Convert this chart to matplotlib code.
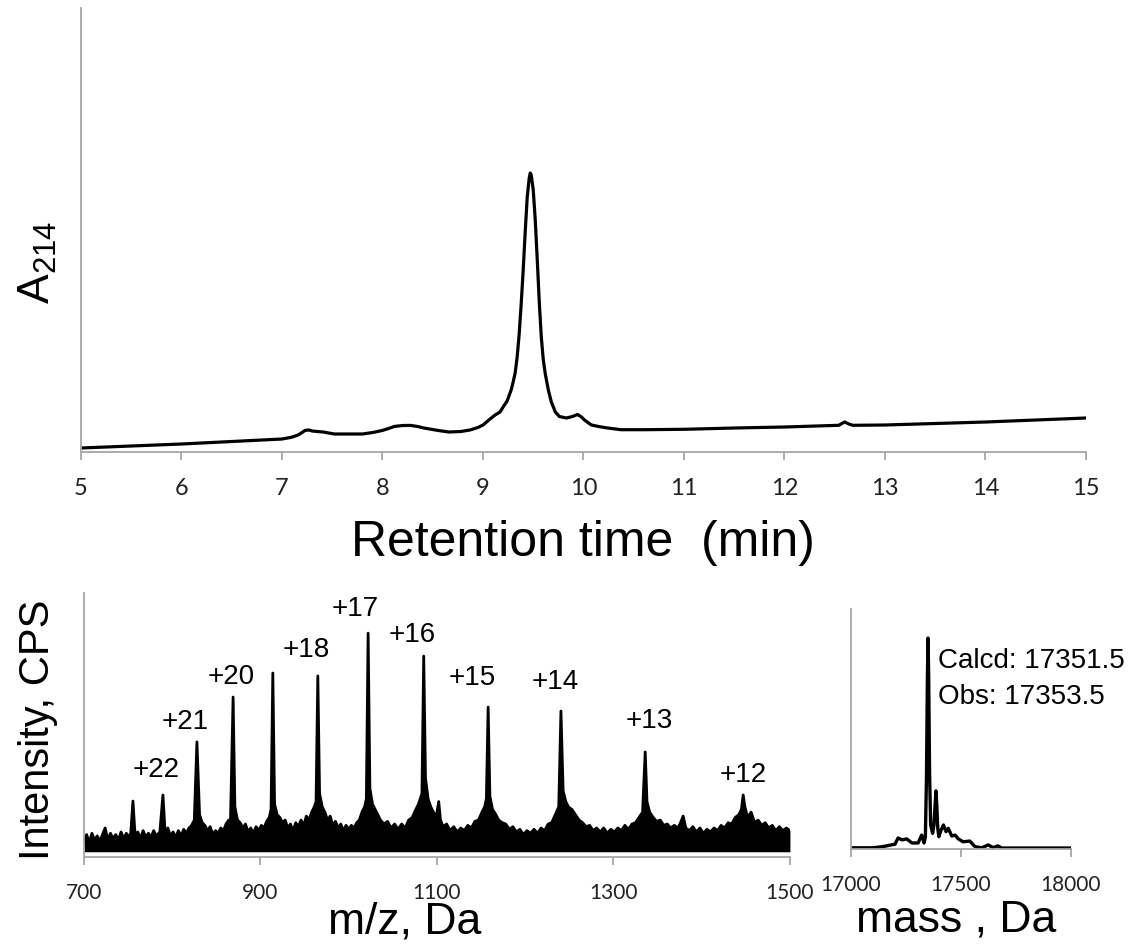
import matplotlib.pyplot as plt

plt.rcParams['mathtext.fontset'] = 'custom'
plt.rcParams['mathtext.rm'] = 'Liberation Sans'
plt.rcParams['mathtext.it'] = 'Liberation Sans'

# --- chromatogram (A214, arbitrary units) ---
rt_min = [5.0, 5.5, 6.0, 6.5, 7.0, 7.09, 7.16, 7.20, 7.23, 7.27, 7.30, 7.35, 7.41,
          7.52, 7.62, 7.80, 7.91, 8.0, 8.06, 8.12, 8.20, 8.28, 8.35, 8.41, 8.55,
          8.66, 8.78, 8.87, 8.95, 9.0, 9.07, 9.12, 9.17, 9.20, 9.24, 9.28, 9.30,
          9.32, 9.34, 9.36, 9.38, 9.40, 9.42, 9.44, 9.46, 9.47, 9.48, 9.50, 9.52,
          9.54, 9.56, 9.58, 9.60, 9.62, 9.65, 9.68, 9.72, 9.76, 9.83, 9.89, 9.94,
          9.98, 10.01, 10.05, 10.08, 10.15, 10.22, 10.37, 10.6, 11.0, 11.5, 12.0,
          12.54, 12.57, 12.6, 12.64, 12.68, 13.0, 13.5, 14.0, 14.5, 15.0]
a214 = [4, 6, 8, 10.5, 13, 14.6, 17, 19.5, 21.6, 22, 21, 20.5, 20,
        18, 18, 18, 19.6, 21.6, 23.5, 25.6, 26.5, 26.6, 25.5, 24, 21.6,
        20, 20.5, 22, 24.5, 27, 33, 37, 40, 45, 51, 62, 70,
        79, 95, 118, 148, 182, 220, 255, 274, 279, 277, 262, 232,
        192, 150, 115, 92, 78, 62, 50, 40, 35.5, 34, 35.5, 37.5,
        35, 32, 29, 27, 25.5, 24.3, 22.3, 22.3, 22.7, 24, 25,
        26.7, 28.5, 30, 28, 26.7, 27, 28.5, 30, 32, 34]

# --- ESI mass spectrum (relative intensity) ---
base_mz = [700, 703, 706, 709, 712, 715, 718, 721, 727, 730, 733, 736, 739, 742,
           745, 748, 751, 753, 758, 761, 764, 767, 770, 773, 776, 779, 782, 786,
           792, 795, 798, 801, 804, 807, 810, 813, 816, 819, 822, 825, 831, 834,
           837, 840, 843, 846, 849, 852, 855, 858, 861, 864, 866, 871, 874, 877,
           880, 883, 886, 889, 892, 895, 898, 901, 904, 907, 910, 912, 916, 919,
           922, 925, 928, 931, 934, 937, 940, 943, 946, 949, 952, 955, 958, 961,
           963, 967, 970, 973, 976, 979, 982, 985, 988, 991, 994, 997, 1000, 1003,
           1006, 1009, 1012, 1015, 1018, 1020, 1024, 1027, 1030, 1033, 1036, 1040,
           1044, 1048, 1052, 1056, 1060, 1064, 1068, 1072, 1076, 1079, 1083, 1087,
           1090, 1093, 1096, 1099, 1104, 1107, 1111, 1115, 1119, 1123, 1127, 1131,
           1135, 1139, 1143, 1147, 1151, 1154, 1156, 1160, 1163, 1166, 1170, 1174,
           1178, 1182, 1186, 1190, 1194, 1198, 1202, 1206, 1210, 1214, 1218, 1222,
           1226, 1230, 1234, 1238, 1243, 1246, 1249, 1253, 1257, 1261, 1265, 1269,
           1273, 1277, 1281, 1285, 1289, 1293, 1297, 1301, 1305, 1309, 1313, 1317,
           1321, 1325, 1329, 1333, 1338, 1341, 1345, 1349, 1353, 1357, 1361, 1365,
           1369, 1373, 1376, 1382, 1386, 1390, 1394, 1398, 1402, 1406, 1410, 1414,
           1418, 1422, 1426, 1430, 1434, 1438, 1442, 1445, 1449, 1452, 1456, 1460,
           1464, 1468, 1472, 1476, 1480, 1484, 1488, 1492, 1496, 1500]
base_int = [6, 8.5, 5.5, 9, 6.5, 8, 6, 8.5, 6.5, 9, 7, 8.5, 6.5, 9.5,
            7, 9, 7.5, 9, 8, 9.5, 7, 10, 7.5, 9, 7.5, 10, 8, 9.5,
            9, 11, 8, 9.5, 7.5, 10, 8, 10.5, 9, 11, 12, 14, 16, 13,
            12, 10, 11.5, 8.5, 10, 9, 11, 10, 12.5, 14, 13, 19, 14, 13,
            11, 12.5, 9.5, 11, 9, 11.5, 10, 12, 11, 13.5, 15, 18, 20, 16,
            15, 13, 14, 11, 12.5, 10, 13, 11.5, 14, 12, 15.5, 14, 17, 19,
            21, 24, 19, 17, 14, 15.5, 12, 13.5, 11, 12.5, 10, 12, 10.5, 12,
            11, 13, 14, 17, 19, 22, 26, 20, 18, 16, 14, 12.5,
            13.5, 11, 12.5, 10.5, 12.5, 11, 14, 15, 18, 20, 24, 30,
            22, 19, 17, 15, 14, 11.5, 12.5, 10, 11.5, 9.5, 11, 10,
            12, 11, 13.5, 14, 17, 19, 22, 23, 18, 16.5, 14, 13,
            12.5, 10.5, 11.5, 9.5, 10.5, 8.5, 10, 9, 10.5, 9, 11, 10,
            12.5, 13, 16, 19, 25, 21, 19, 18, 16, 14, 13, 11.5,
            12, 10, 11, 9.5, 11, 9, 10.5, 9.5, 11, 10, 12, 10.5,
            12.5, 13, 15, 17, 21, 17, 15, 13.5, 14, 12, 12.5, 11,
            12, 11, 13, 11, 10, 11.5, 9.5, 11, 9, 10.5, 9.5, 11,
            10, 12, 11, 13, 12.5, 15, 16, 18, 19, 15, 17, 13,
            14, 12, 13, 11, 12, 10, 11.5, 10, 11, 10]
peak_mz = [724, 755.5, 789.5, 828, 869, 914, 965, 1022, 1085, 1102,
           1158, 1240.5, 1336, 1379, 1447]
peak_int = [11, 21.2, 23.5, 43.6, 60.6, 69.7, 68.6, 84.8, 76.1, 21,
            56.8, 55.3, 39.8, 15.5, 23.5]
noise_floor = 2.0

charge_labels = ['+22', '+21', '+20', '+18', '+17', '+16', '+15', '+14', '+13', '+12']
label_mz = [781.6, 814.4, 866.6, 951.6, 1007, 1071.7, 1139.7, 1233.7, 1340.2, 1446.7]
label_int = [33, 51.1, 68.2, 78.4, 93.9, 84.1, 67.8, 66.3, 51.5, 31.1]

# --- deconvoluted mass ---
mass_da = [17000, 17100, 17145, 17200, 17214, 17232, 17253, 17277, 17305, 17321,
           17332, 17338, 17343, 17347, 17350, 17353, 17357, 17362, 17371, 17377,
           17382, 17386, 17390, 17394, 17399, 17410, 17420, 17432, 17442, 17458,
           17473, 17488, 17509, 17540, 17563, 17594, 17624, 17645, 17668, 17685,
           18000]
mass_int = [0.5, 0.5, 1, 2, 4.6, 3.8, 4.2, 2.5, 2.5, 5.8,
            2.5, 5, 30, 70, 87.9, 72, 32, 10, 6.5, 10,
            18, 24.2, 18, 9, 5.1, 8, 10, 7.2, 8.6, 5.4,
            5.8, 4.2, 3, 3.3, 1, 0.5, 1.7, 0.6, 1.3, 0.4,
            0.4]

assert len(base_mz) == len(base_int)
assert len(rt_min) == len(a214)
assert len(mass_da) == len(mass_int)

axis_grey = '#a6a6a6'
tick_font = 'Lato'
label_font = 'Liberation Sans'


def style_axes(ax, labelsize, pad):
    for s in ['top', 'right']:
        ax.spines[s].set_visible(False)
    for s in ['left', 'bottom']:
        ax.spines[s].set_color(axis_grey)
        ax.spines[s].set_linewidth(1.3)
    ax.set_yticks([])
    ax.tick_params(axis='x', direction='out', length=6, width=1.3, color=axis_grey,
                   labelsize=labelsize, pad=pad, labelcolor='#222222')
    for t in ax.get_xticklabels():
        t.set_fontfamily(tick_font)


fig = plt.figure(figsize=(11.44, 9.47), dpi=100)

# chromatogram
ax1 = fig.add_axes([0.0708, 0.5227, 0.8785, 0.4688])
ax1.plot(rt_min, a214, color='black', lw=2.3, solid_joinstyle='round')
ax1.set_xlim(5, 15)
ax1.set_ylim(0, 444)
ax1.set_xticks(range(5, 16))
style_axes(ax1, 17, 13)
fig.text(583 / 1144, 1 - 543 / 947, 'Retention time  (min)', ha='center', va='center',
         fontsize=36, family=label_font)
fig.text(38 / 1144, 1 - 262 / 947, r'A$_{214}$', ha='center', va='center', rotation=90,
         fontsize=32, family=label_font)

# mass spectrum
ax2 = fig.add_axes([0.0734, 0.0950, 0.6171, 0.2788])
trace = sorted(zip(base_mz + peak_mz, base_int + peak_int))
tr_x = [p[0] for p in trace]
tr_y = [p[1] for p in trace]
ax2.fill_between(tr_x, noise_floor, tr_y, color='black', lw=0)
ax2.plot(tr_x, tr_y, color='black', lw=2.0)
for lab, x, y in zip(charge_labels, label_mz, label_int):
    ax2.text(x, y, lab, ha='center', va='center', fontsize=20, family=label_font)
ax2.set_xlim(700, 1500)
ax2.set_ylim(0, 100)
ax2.set_xticks([700, 900, 1100, 1300, 1500])
style_axes(ax2, 15, 13)
fig.text(38 / 1144, 1 - 730 / 947, 'Intensity, CPS', ha='center', va='center',
         rotation=90, fontsize=30, family=label_font)
fig.text(405 / 1144, 1 - 922 / 947, 'm/z, Da', ha='center', va='center',
         fontsize=32, family=label_font)

# deconvoluted
ax3 = fig.add_axes([0.7439, 0.1035, 0.1923, 0.2534])
ax3.plot(mass_da, mass_int, color='black', lw=2.4, solid_joinstyle='round')
ax3.text(17395, 78.5, 'Calcd: 17351.5', ha='left', va='center', fontsize=20,
         family=label_font)
ax3.text(17395, 63.3, 'Obs: 17353.5', ha='left', va='center', fontsize=20,
         family=label_font)
ax3.set_xlim(17000, 18000)
ax3.set_ylim(0, 100)
ax3.set_xticks([17000, 17500, 18000])
style_axes(ax3, 15, 13)
fig.text(956 / 1144, 1 - 920 / 947, 'mass , Da', ha='center', va='center',
         fontsize=32, family=label_font)

fig.savefig('out.png', dpi=100)
